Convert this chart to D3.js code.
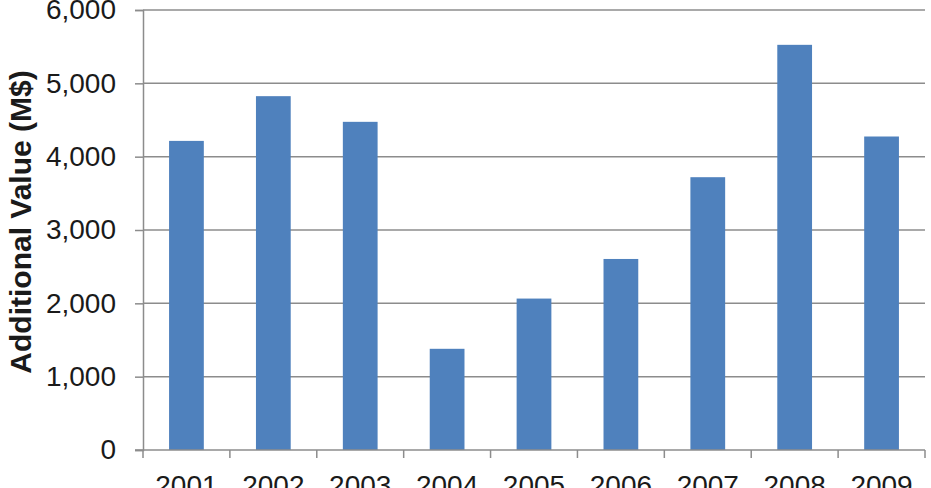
<!DOCTYPE html>
<html>
<head>
<meta charset="utf-8">
<script src="https://cdn.jsdelivr.net/npm/d3@7"></script>
<style>
  body { margin: 0; background: #fff; }
  svg { display: block; font-family: "Liberation Sans", Arial, sans-serif; }
</style>
</head>
<body>
<div id="chart"></div>
<script>
const years = ["2001", "2002", "2003", "2004", "2005", "2006", "2007", "2008", "2009"];
const values = [4215, 4825, 4475, 1380, 2065, 2605, 3720, 5525, 4275];
const yTicks = [0, 1000, 2000, 3000, 4000, 5000, 6000];

const width = 931, height = 488;
const margin = { top: 10, right: 6, bottom: 38, left: 143 };

const svg = d3.select("#chart").append("svg")
  .attr("width", width)
  .attr("height", height);

const x = d3.scaleBand()
  .domain(years)
  .range([margin.left, width - margin.right])
  .paddingInner(0.6)
  .paddingOuter(0.3);

const y = d3.scaleLinear()
  .domain([0, 6000])
  .range([height - margin.bottom, margin.top]);

const gridColor = "#8c8c8c";
const textColor = "#1a1a1a";

// gridlines
svg.append("g")
  .selectAll("line")
  .data(yTicks.slice(1))
  .join("line")
  .attr("x1", margin.left)
  .attr("x2", width - margin.right)
  .attr("y1", d => y(d))
  .attr("y2", d => y(d))
  .attr("stroke", gridColor)
  .attr("stroke-width", 1.5);

// bars
svg.append("g")
  .selectAll("rect")
  .data(values)
  .join("rect")
  .attr("x", (d, i) => x(years[i]))
  .attr("width", x.bandwidth())
  .attr("y", d => y(d))
  .attr("height", d => y(0) - y(d))
  .attr("fill", "#4f81bd");

// y axis
const yAxis = svg.append("g")
  .attr("transform", `translate(${margin.left},0)`)
  .call(d3.axisLeft(y).tickValues(yTicks).tickFormat(d3.format(",")).tickSize(8).tickPadding(19));
yAxis.select(".domain").attr("stroke", gridColor).attr("stroke-width", 1.5);
yAxis.selectAll(".tick line").attr("stroke", gridColor).attr("stroke-width", 1.5);
yAxis.selectAll("text")
  .attr("font-size", 28)
  .attr("font-family", "Liberation Sans, Arial, sans-serif")
  .attr("fill", textColor);

// x axis, ticks sit on category boundaries
const boundaries = d3.range(years.length + 1)
  .map(i => margin.left + i * (width - margin.right - margin.left) / years.length);
const xg = svg.append("g");
xg.append("line")
  .attr("x1", margin.left - 8)
  .attr("x2", width - margin.right)
  .attr("y1", y(0))
  .attr("y2", y(0))
  .attr("stroke", gridColor)
  .attr("stroke-width", 1.5);
xg.selectAll("line.tk")
  .data(boundaries)
  .join("line")
  .attr("class", "tk")
  .attr("x1", d => d)
  .attr("x2", d => d)
  .attr("y1", y(0))
  .attr("y2", y(0) + 8)
  .attr("stroke", gridColor)
  .attr("stroke-width", 1.5);
xg.selectAll("text")
  .data(years)
  .join("text")
  .attr("x", d => x(d) + x.bandwidth() / 2)
  .attr("y", y(0) + 45)
  .attr("text-anchor", "middle")
  .attr("font-size", 28)
  .attr("fill", textColor)
  .text(d => d);

// y axis title
svg.append("text")
  .attr("transform", `translate(31,222) rotate(-90)`)
  .attr("text-anchor", "middle")
  .attr("font-size", 30)
  .attr("font-weight", "bold")
  .attr("fill", textColor)
  .text("Additional Value (M$)");
</script>
</body>
</html>
